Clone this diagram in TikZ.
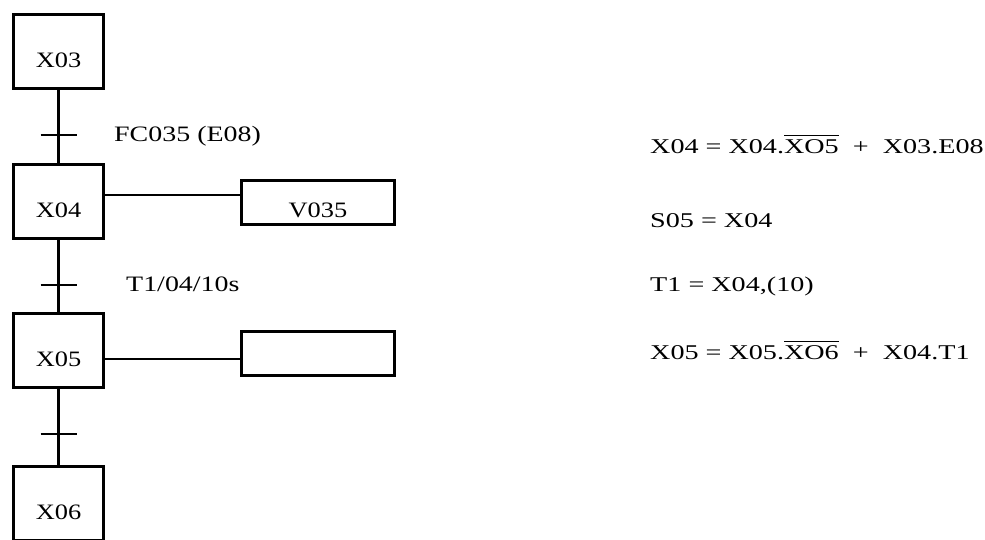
\documentclass[tikz,border=0pt]{standalone}
\usepackage{fontspec}
\setmainfont{Liberation Serif}
\usepackage{graphicx}
\newcommand\boxtxt[1]{\scalebox{1.2}[1]{\fontsize{22}{26}\selectfont #1}}
\newcommand\sidetxt[1]{\scalebox{1.27}[1]{\fontsize{22}{26}\selectfont #1}}
\newcommand\eqtxt[1]{\scalebox{1.34}[1]{\fontsize{21}{25}\selectfont #1}}
\newcommand\negbar[1]{$\overline{\mbox{#1}\rule{0pt}{16.5pt}}$}
\begin{document}
\begin{tikzpicture}[x=1pt,y=-1pt,
  stepbox/.style={draw, line width=3pt, minimum width=90pt, minimum height=74pt,
    inner sep=0pt, text height=32pt, text depth=0pt},
  actbox/.style={draw, line width=3pt, minimum width=153pt, minimum height=44pt,
    inner sep=0pt, text height=29pt, text depth=0pt},
  conn/.style={line width=2.9pt},
  barnode/.style={inner sep=0pt, outer sep=0pt, minimum width=36pt, minimum height=0pt},
  bar/.style={line width=2.9pt},
  lbl/.style={anchor=base west, inner sep=0pt}]
\useasboundingbox (0,0) rectangle (985,539);
\clip (0,0) rectangle (985,539);
% steps
\node[stepbox] (X03) at (58.5,51.5) {\boxtxt{X03}};
\node[stepbox] (X04) at (58.5,201) {\boxtxt{X04}};
\node[stepbox] (X05) at (58.5,350.5) {\boxtxt{X05}};
\node[stepbox] (X06) at (58.5,503.5) {\boxtxt{X06}};
% actions
\node[actbox] (V035) at (318,202.5) {\boxtxt{V035}};
\node[actbox] (A05) at (318,353.5) {};
% transitions
\node[barnode] (t1) at (58.5,135) {};
\node[barnode] (t2) at (58.5,285) {};
\node[barnode] (t3) at (58.5,434) {};
% connectors
\draw[conn] (X03.south) -- (X04.north);
\draw[conn] (X04.south) -- (X05.north);
\draw[conn] (X05.south) -- (X06.north);
\draw[bar] (t1.west) -- (t1.east);
\draw[bar] (t2.west) -- (t2.east);
\draw[bar] (t3.west) -- (t3.east);
\path ([yshift=6pt]X04.east) coordinate (a4);
\draw[conn] (a4) -- (a4 -| V035.west);
\path ([yshift=-8.5pt]X05.east) coordinate (a5);
\draw[conn] (a5) -- (a5 -| A05.west);
% transition labels
\node[lbl] (l1) at (114,141) {\sidetxt{FC035 (E08)}};
\node[lbl] (l2) at (126,291) {\sidetxt{T1/04/10s}};
% equations
\node[lbl] (e1) at (650,153) {\eqtxt{X04 = X04.\negbar{XO5}\ \ +\ \ X03.E08}};
\node[lbl] (e2) at (650,227) {\eqtxt{S05 = X04}};
\node[lbl] (e3) at (650,291) {\eqtxt{T1 = X04,(10)}};
\node[lbl] (e4) at (650,359) {\eqtxt{X05 = X05.\negbar{XO6}\ \ +\ \ X04.T1}};
\end{tikzpicture}
\end{document}
